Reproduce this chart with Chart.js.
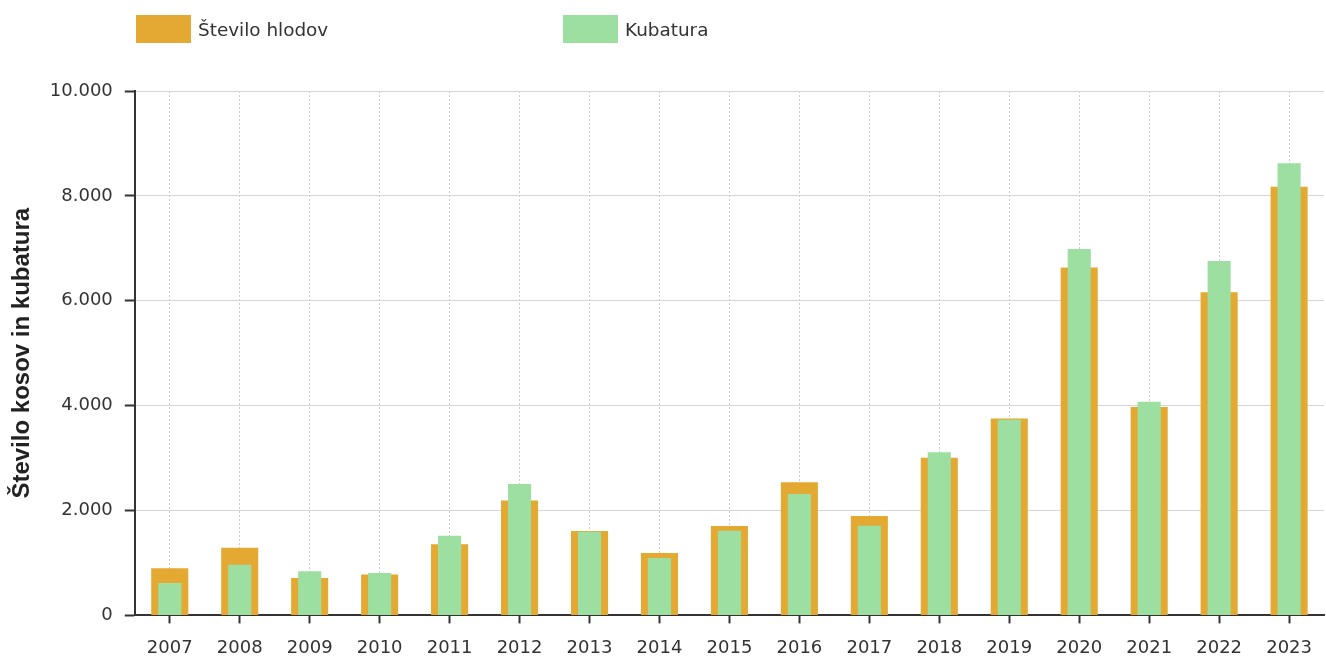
<!DOCTYPE html>
<html>
<head>
<meta charset="utf-8">
<script src="https://cdn.jsdelivr.net/npm/chart.js@4"></script>
<style>
    html, body { margin: 0; padding: 0; background: #fff; overflow: hidden; }
    #wrap { position: relative; width: 1326px; height: 657px; overflow: hidden; }
    #chart { position: absolute; left: 0; top: 0; }
    #legend { position: absolute; left: 0; top: 0; width: 100%; height: 60px; font-family: 'DejaVu Sans', Verdana, sans-serif; font-size: 18.4px; color: #333; }
    .item { position: absolute; top: 15px; display: flex; align-items: center; }
    .item .box { width: 55px; height: 28px; margin-right: 7px; }
</style>
</head>
<body>
<div id="wrap">
    <canvas id="chart" width="1326" height="671"></canvas>
    <div id="legend"></div>
</div>
<script>
const years = ['2007', '2008', '2009', '2010', '2011', '2012', '2013', '2014', '2015',
    '2016', '2017', '2018', '2019', '2020', '2021', '2022', '2023'];
const steviloHlodov = [900, 1290, 715, 780, 1355, 2190, 1610, 1190, 1705,
    2540, 1895, 3005, 3755, 6635, 3975, 6160, 8175];
const kubatura = [620, 965, 840, 810, 1520, 2505, 1595, 1095, 1615,
    2315, 1710, 3110, 3730, 6985, 4075, 6760, 8620];
const yTicks = [0, 2000, 4000, 6000, 8000, 10000];

const orange = '#E4A932';
const green = '#9CDFA1';

const fmt = v => String(v).replace(/\B(?=(\d{3})+(?!\d))/g, '.');

const ctx = document.getElementById('chart').getContext('2d');
const chart = new Chart(ctx, {
    type: 'bar',
    data: {
        labels: years,
        datasets: [{
            label: 'Število hlodov',
            data: steviloHlodov,
            backgroundColor: orange,
            barPercentage: 0.53,
            categoryPercentage: 1,
            grouped: false,
            order: 2
        }, {
            label: 'Kubatura',
            data: kubatura,
            backgroundColor: green,
            barPercentage: 0.33,
            categoryPercentage: 1,
            grouped: false,
            order: 1
        }]
    },
    options: {
        responsive: false,
        animation: false,
        layout: { padding: { top: 91, right: 0, left: 0, bottom: -2 } },
        scales: {
            x: {
                grid: {
                    offset: false,
                    color: '#cccccc',
                    lineWidth: 1,
                    tickColor: '#333',
                    tickLength: 8,
                    tickWidth: 2
                },
                border: { color: '#333', width: 2, dash: [2, 2] },
                ticks: { color: '#333', font: { family: 'DejaVu Sans', size: 18 }, padding: 14 }
            },
            y: {
                min: 0,
                max: 10000,
                afterBuildTicks: axis => { axis.ticks = yTicks.map(v => ({ value: v })); },
                grid: { color: '#d6d6d6', tickColor: '#333', tickLength: 10, tickWidth: 2 },
                border: { color: '#333', width: 2 },
                ticks: {
                    color: '#333',
                    font: { family: 'DejaVu Sans', size: 18 },
                    padding: 12,
                    callback: v => fmt(v)
                },
                title: {
                    display: true,
                    text: 'Število kosov in kubatura',
                    color: '#222',
                    font: { family: 'Liberation Sans', size: 24, weight: 'bold' },
                    padding: { top: 8, bottom: 1 }
                }
            }
        },
        plugins: {
            legend: { display: false },
            tooltip: { enabled: false }
        }
    }
});

// legend as plain elements, same look as the original
const legendPos = [136, 563];
const legend = document.getElementById('legend');
chart.data.datasets.forEach((ds, i) => {
    const item = document.createElement('div');
    item.className = 'item';
    item.style.left = legendPos[i] + 'px';
    const box = document.createElement('span');
    box.className = 'box';
    box.style.background = ds.backgroundColor;
    const txt = document.createElement('span');
    txt.textContent = ds.label;
    item.appendChild(box);
    item.appendChild(txt);
    legend.appendChild(item);
});
</script>
</body>
</html>
